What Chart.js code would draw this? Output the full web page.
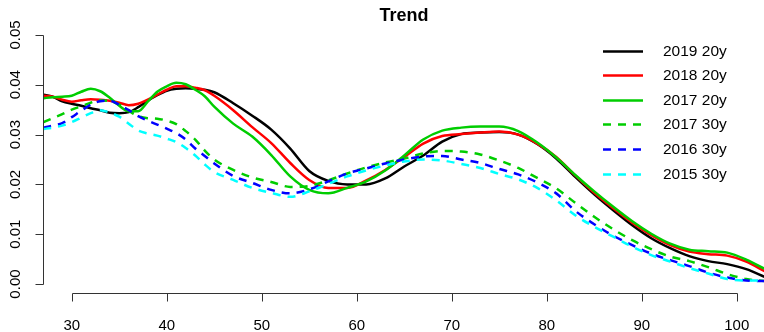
<!DOCTYPE html>
<html lang="en">
<head>
<meta charset="UTF-8">
<title>Trend</title>
<script src="https://cdn.jsdelivr.net/npm/chart.js@4.4.1/dist/chart.umd.min.js"></script>
<style>
    html, body { margin: 0; padding: 0; background: #fff; }
    #wrap { width: 764px; height: 332px; }
</style>
</head>
<body>
<div id="wrap"><canvas id="trendChart"></canvas></div>
<script>
    // ages on the x axis (1-year steps where the curves wiggle, 2-year after)
    const ages = [27, 28, 29, 30, 31, 32, 33, 34, 35, 36, 37, 38, 39, 40, 41, 42, 43, 44, 45,
        47, 49, 51, 53, 55, 57, 59, 61, 63, 65, 67, 69, 71, 73, 75, 77, 79, 81, 83, 85,
        87, 89, 91, 93, 95, 97, 99, 101, 103];

    const y2019_20 = [.0380, .0376, .0367, .0362, .0358, .0353, .0349, .0344, .0343, .0345, .0355, .0368, .0379, .0388, .0392, .0393, .0392, .0390, .0385,
        .0363, .0338, .0310, .0272, .0227, .0207, .0200, .0200, .0212, .0236, .0258, .0286, .0301, .0304, .0305, .0300, .0281, .0252, .0215, .0180,
        .0148, .0118, .0092, .0072, .0056, .0046, .0040, .0030, .0014];
    const y2018_20 = [.0378, .0376, .0370, .0366, .0369, .0371, .0370, .0368, .0364, .0359, .0362, .0370, .0380, .0390, .0397, .0397, .0394, .0389, .0378,
        .0349, .0315, .0283, .0243, .0209, .0193, .0193, .0208, .0229, .0255, .0282, .0297, .0301, .0304, .0306, .0300, .0282, .0255, .0218, .0183,
        .0152, .0123, .0098, .0078, .0065, .0060, .0057, .0045, .0025];
    const y2017_20 = [.0373, .0375, .0376, .0378, .0386, .0392, .0387, .0374, .0358, .0347, .0347, .0366, .0386, .0397, .0404, .0401, .0390, .0377, .0356,
        .0322, .0296, .0259, .0216, .0189, .0182, .0193, .0206, .0228, .0258, .0290, .0308, .0314, .0316, .0316, .0307, .0284, .0254, .0219, .0186,
        .0155, .0126, .0101, .0081, .0069, .0066, .0063, .0049, .0030];
    const y2017_30 = [.0325, .0333, .0341, .0350, .0357, .0364, .0369, .0367, .0360, .0348, .0337, .0333, .0332, .0328, .0321, .0307, .0290, .0268, .0250,
        .0229, .0214, .0205, .0195, .0197, .0208, .0222, .0234, .0244, .0252, .0262, .0267, .0266, .0260, .0248, .0233, .0213, .0192, .0163, .0135,
        .0110, .0088, .0070, .0055, .0046, .0034, .0020, .0010, .0006];
    const y2016_30 = [.0314, .0318, .0323, .0335, .0348, .0360, .0367, .0368, .0360, .0349, .0337, .0328, .0320, .0312, .0303, .0290, .0272, .0257, .0242,
        .0217, .0203, .0189, .0182, .0190, .0206, .0222, .0232, .0242, .0250, .0256, .0257, .0250, .0243, .0231, .0220, .0204, .0182, .0147, .0120,
        .0097, .0078, .0061, .0048, .0036, .0023, .0013, .0007, .0006];
    const y2015_30 = [.0311, .0314, .0318, .0325, .0334, .0343, .0349, .0344, .0336, .0322, .0308, .0302, .0298, .0292, .0285, .0273, .0258, .0240, .0225,
        .0209, .0193, .0183, .0175, .0186, .0201, .0216, .0228, .0238, .0246, .0250, .0248, .0241, .0233, .0221, .0210, .0193, .0168, .0138, .0115,
        .0095, .0075, .0058, .0045, .0032, .0021, .0010, .0007, .0007];

    const seriesNames = ['2019 20y', '2018 20y', '2017 20y', '2017 30y', '2016 30y', '2015 30y'];
    const xTicks = [30, 40, 50, 60, 70, 80, 90, 100];
    const yTicks = [0, 0.01, 0.02, 0.03, 0.04, 0.05];
    const yTickLabels = ['0.00', '0.01', '0.02', '0.03', '0.04', '0.05'];

    const allValues = [y2019_20, y2018_20, y2017_20, y2017_30, y2016_30, y2015_30];
    const colors = ['#000000', '#ff0000', '#00cd00', '#00cd00', '#0000ff', '#00ffff'];
    const dashed = [false, false, false, true, true, true];

    const FONT = '"Liberation Sans", Arial, Helvetica, sans-serif';

    const datasets = allValues.map((vals, i) => ({
        label: seriesNames[i],
        data: ages.map((a, j) => ({ x: a, y: vals[j] })),
        borderColor: colors[i],
        borderWidth: 2.5,
        borderDash: dashed[i] ? [8, 7] : [],
        pointRadius: 0,
        fill: false,
        cubicInterpolationMode: 'monotone',
        order: allValues.length - i   // later series painted on top, like R
    }));

    // R-style detached axes + legend without box
    const rStyle = {
        id: 'rStyle',
        afterDraw(chart) {
            const ctx = chart.ctx;
            const xs = chart.scales.x, ys = chart.scales.y;
            const area = chart.chartArea;
            ctx.save();
            ctx.strokeStyle = '#333';
            ctx.lineWidth = 1;
            ctx.setLineDash([]);

            // y axis
            const ax = area.left - 0.5;
            const yTop = Math.round(ys.getPixelForValue(yTicks[yTicks.length - 1])) + 0.5;
            const yBot = Math.round(ys.getPixelForValue(yTicks[0])) + 0.5;
            ctx.beginPath();
            ctx.moveTo(ax, yTop);
            ctx.lineTo(ax, yBot);
            yTicks.forEach(v => {
                const p = Math.round(ys.getPixelForValue(v)) + 0.5;
                ctx.moveTo(ax, p);
                ctx.lineTo(ax - 8, p);
            });
            // x axis
            const ay = area.bottom - 0.5;
            const xL = Math.round(xs.getPixelForValue(xTicks[0])) + 0.5;
            const xR = Math.round(xs.getPixelForValue(xTicks[xTicks.length - 1])) + 0.5;
            ctx.moveTo(xL, ay);
            ctx.lineTo(xR, ay);
            xTicks.forEach(v => {
                const p = Math.round(xs.getPixelForValue(v)) + 0.5;
                ctx.moveTo(p, ay);
                ctx.lineTo(p, ay + 8);
            });
            ctx.stroke();

            ctx.fillStyle = '#000';
            ctx.font = '15px ' + FONT;
            ctx.textAlign = 'center';
            ctx.textBaseline = 'middle';
            xTicks.forEach(v => {
                ctx.fillText(String(v), xs.getPixelForValue(v), 326);
            });
            yTicks.forEach((v, i) => {
                ctx.save();
                ctx.translate(16, ys.getPixelForValue(v));
                ctx.rotate(-Math.PI / 2);
                ctx.fillText(yTickLabels[i], 0, 0);
                ctx.restore();
            });

            // legend
            ctx.textAlign = 'left';
            ctx.font = '15.5px ' + FONT;
            chart.data.datasets.forEach((ds, i) => {
                const ly = Math.round(50.5 + i * 24.6) + 0.5;
                ctx.beginPath();
                ctx.strokeStyle = ds.borderColor;
                ctx.lineWidth = ds.borderWidth;
                ctx.setLineDash(ds.borderDash);
                ctx.moveTo(603, ly);
                ctx.lineTo(643, ly);
                ctx.stroke();
                ctx.fillText(ds.label, 663, ly);
            });
            ctx.restore();
        }
    };

    new Chart(document.getElementById('trendChart'), {
        type: 'line',
        data: { datasets: datasets },
        options: {
            responsive: true,
            maintainAspectRatio: false,
            animation: false,
            layout: { padding: { left: 44, right: 0, top: 0, bottom: 38 } },
            scales: {
                x: { type: 'linear', min: 27.08, max: 102.87, display: false },
                y: { type: 'linear', min: -0.002, max: 0.052, display: false }
            },
            plugins: {
                legend: { display: false },
                tooltip: { enabled: false },
                title: {
                    display: true,
                    text: 'Trend',
                    color: '#000',
                    font: { family: FONT, size: 18, weight: 'bold', lineHeight: 1 },
                    padding: { top: 7, bottom: 0 }
                }
            }
        },
        plugins: [rStyle]
    });
</script>
</body>
</html>
